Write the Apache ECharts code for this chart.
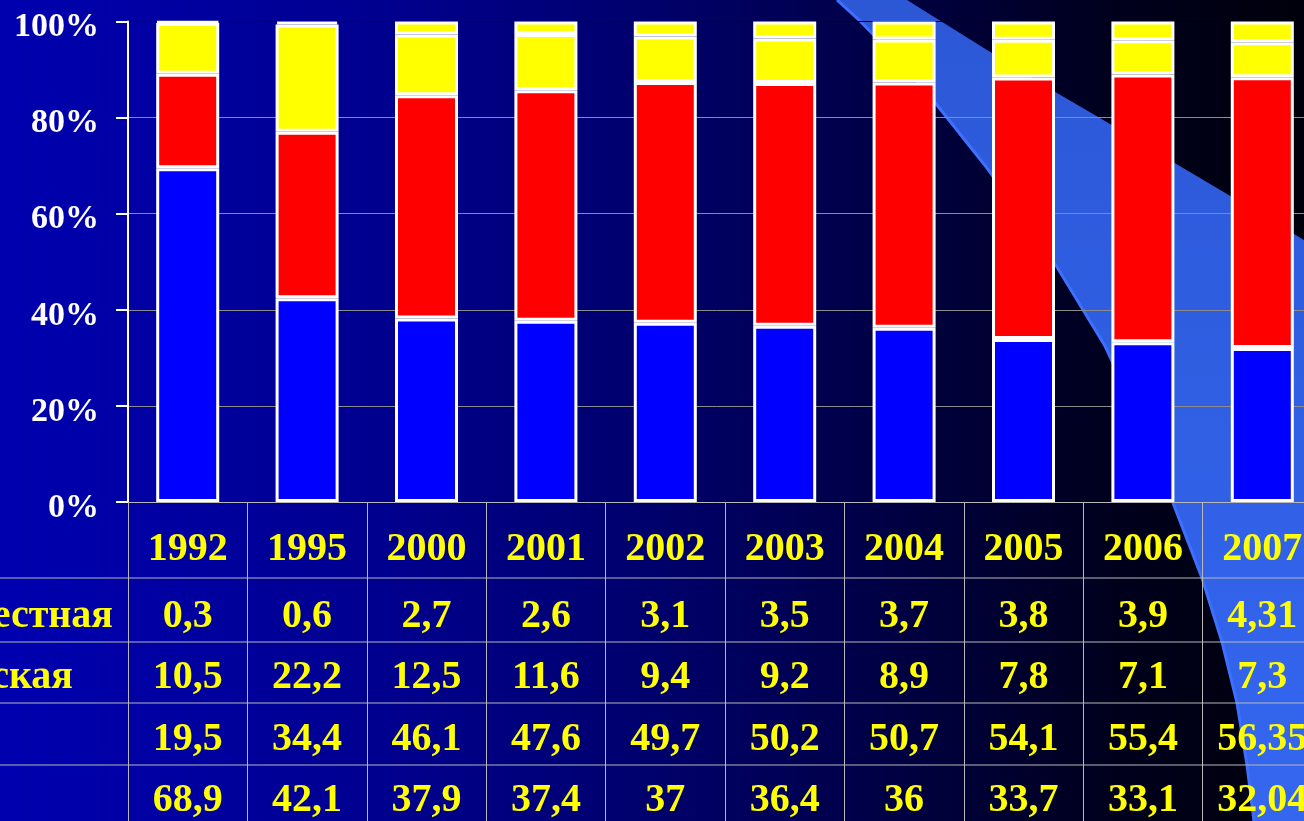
<!DOCTYPE html>
<html><head><meta charset="utf-8">
<script src="https://cdn.jsdelivr.net/npm/echarts@6/dist/echarts.min.js"></script>
<style>html,body{margin:0;padding:0;background:#000;overflow:hidden}#c{width:1304px;height:821px}</style>
</head><body><div id="c"></div>
<script>
// ---- data ----
const years = ['1992','1995','2000','2001','2002','2003','2004','2005','2006','2007'];
const rowLabels = ['естная', 'ская', '', ''];
const unknownVals = [0.3, 0.6, 2.7, 2.6, 3.1, 3.5, 3.7, 3.8, 3.9, 4.31];
const skayaVals   = [10.5, 22.2, 12.5, 11.6, 9.4, 9.2, 8.9, 7.8, 7.1, 7.3];
const redVals     = [19.5, 34.4, 46.1, 47.6, 49.7, 50.2, 50.7, 54.1, 55.4, 56.35];
const blueVals    = [68.9, 42.1, 37.9, 37.4, 37, 36.4, 36, 33.7, 33.1, 32.04];
const yTickLabels = ['0%', '20%', '40%', '60%', '80%', '100%'];

// table rows, top to bottom
const tableRows = [unknownVals, skayaVals, redVals, blueVals];

// ---- layout / style ----
const FONT = '"Liberation Serif", "Times New Roman", serif';
const YEL = '#ffff00';
const GRID_LEFT = 128, GRID_TOP = 21.5, GRID_W = 1194, PLOT_BOTTOM = 502;
const yearMargin = 48;
const rowMargins = [115, 176, 238, 299];
const rowLineYs = [578, 642, 703, 765];
const rowLabelPos = [[113, 617], [73, 678]];
const lineCol = '#b8b8b8';

const totals = years.map((_, i) => tableRows.reduce((s, r) => s + r[i], 0));
const pct = arr => arr.map((v, i) => v / totals[i] * 100);
const fmt = v => String(v).replace('.', ',');

// decorative swoosh outline
const swooshLeft = [[837,0],[860,21],[900,62],[937,105],[987,168],[1025,220],[1057,267],[1105,346],[1140,420],[1173,503],[1202,578],[1222,642],[1237,703],[1247,765],[1254,821]];
const swooshTop = [[907,0],[987,50],[1057,93],[1105,121],[1173,162],[1227,194],[1304,240]];
const swooshPoly = swooshTop.concat([[1304,821]], swooshLeft.slice().reverse());

const chart = echarts.init(document.getElementById('c'), null, {renderer: 'canvas'});

const labelAxis = (margin, formatter) => ({
  type: 'category', data: years, gridIndex: 0, position: 'bottom',
  axisLine: {show: false}, axisTick: {show: false}, splitLine: {show: false},
  axisLabel: {show: true, interval: 0, margin: margin, verticalAlign: 'middle',
    color: YEL, fontFamily: FONT, fontWeight: 'bold', fontSize: 40, formatter: formatter}
});

const xAxes = [
  {type: 'category', data: years, gridIndex: 0, position: 'bottom',
   axisLine: {show: true, lineStyle: {color: lineCol, width: 1}},
   axisTick: {show: false}, axisLabel: {show: false}, splitLine: {show: false}},
  {type: 'category', data: years, gridIndex: 1, position: 'top',
   axisLine: {show: false}, axisTick: {show: false}, axisLabel: {show: false},
   splitLine: {show: true, interval: 0, lineStyle: {color: lineCol, width: 1}}},
  labelAxis(yearMargin, v => v)
].concat(tableRows.map((row, r) => labelAxis(rowMargins[r], (v, i) => fmt(row[i]))));

const seriesDefs = [
  {name: 'blue', data: blueVals, color: '#0000ff'},
  {name: 'red', data: redVals, color: '#ff0000'},
  {name: 'ская', data: skayaVals, color: '#ffff00'},
  {name: 'неизвестная', data: unknownVals, color: '#ffff00'}
];

const graphics = [
  {type: 'rect', z: -20, silent: true, shape: {x: 0, y: 0, width: 1304, height: 821},
   style: {fill: new echarts.graphic.LinearGradient(0, 0, 1, 0, [
     {offset: 0, color: '#0000b0'}, {offset: 0.3, color: '#00008e'},
     {offset: 0.5, color: '#00006c'}, {offset: 0.7, color: '#000040'},
     {offset: 0.85, color: '#00001e'}, {offset: 1, color: '#00000c'}])}},
  {type: 'polygon', z: -19, silent: true, shape: {points: swooshPoly},
   style: {fill: new echarts.graphic.LinearGradient(0, 0, 0, 1, [
     {offset: 0, color: '#2c58d6'}, {offset: 1, color: '#3466f0'}])}},
  {type: 'polyline', z: -18, silent: true, shape: {points: swooshLeft},
   style: {stroke: '#3d70ff', lineWidth: 3, fill: null}}
];
rowLineYs.forEach(y => graphics.push({type: 'line', z: -5, silent: true,
  shape: {x1: 0, y1: y, x2: 1304, y2: y}, style: {stroke: lineCol, lineWidth: 1}}));
rowLabels.forEach((t, r) => {
  if (!t) return;
  graphics.push({type: 'text', z: 5, silent: true,
    style: {text: t, x: rowLabelPos[r][0], y: rowLabelPos[r][1], align: 'right', verticalAlign: 'middle',
      fill: YEL, font: 'bold 40px ' + FONT}});
});

chart.setOption({
  animation: false,
  backgroundColor: '#000',
  grid: [
    {left: GRID_LEFT, top: GRID_TOP, width: GRID_W, height: PLOT_BOTTOM - GRID_TOP, outerBoundsMode: 'none', containLabel: false},
    {left: GRID_LEFT, top: PLOT_BOTTOM, width: GRID_W, height: 340, outerBoundsMode: 'none', containLabel: false}
  ],
  xAxis: xAxes,
  yAxis: [
    {type: 'value', gridIndex: 0, min: 0, max: 100, interval: 20,
     axisLine: {show: true, lineStyle: {color: '#ffffff', width: 2}},
     axisTick: {show: true, length: 12, lineStyle: {color: '#ffffff', width: 2}},
     axisLabel: {color: '#ffffff', fontFamily: FONT, fontWeight: 'bold', fontSize: 34, margin: 29,
       verticalAlign: 'top', lineHeight: 12, formatter: (v) => yTickLabels[Math.round(v / 20)]},
     splitLine: {show: true, lineStyle: {color: ['#8c8c8c','#8c8c8c','#8c8c8c','#8c8c8c','#8c8c8c','#000000'], width: 1}}},
    {type: 'value', gridIndex: 1, min: 0, max: 1, show: false, splitLine: {show: false}}
  ],
  graphic: graphics,
  series: seriesDefs.map(s => ({
    name: s.name, type: 'bar', stack: 'total', xAxisIndex: 0, yAxisIndex: 0,
    barWidth: 63, data: pct(s.data), silent: true,
    itemStyle: {color: s.color, borderColor: '#ffffff', borderWidth: 3}
  }))
});
</script></body></html>
